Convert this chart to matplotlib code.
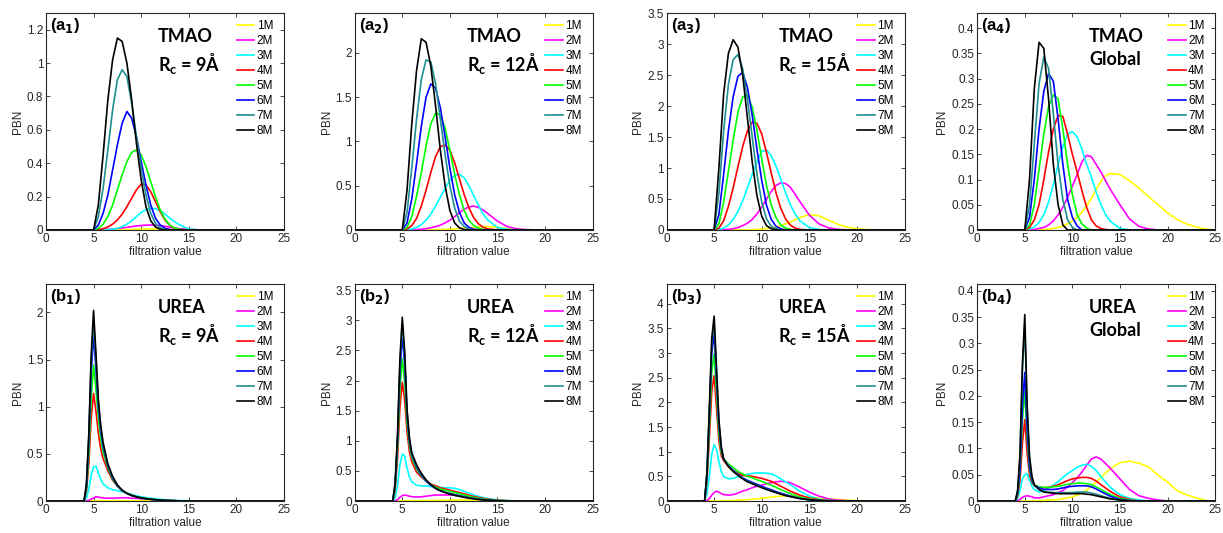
import matplotlib
matplotlib.use('Agg')
from matplotlib import pyplot as plt
from matplotlib.ticker import FuncFormatter

plt.rcParams['font.family'] = ['Liberation Sans', 'DejaVu Sans']

concentrations = ['1M', '2M', '3M', '4M', '5M', '6M', '7M', '8M']
line_colors = ['#ffff00', '#ff00ff', '#00ffff', '#ff0000', '#00ff00', '#0000ff', '#1f8f8f', '#000000']

# filtration values
x_tmao = [0, 5, 5.5, 6, 6.5, 7, 7.5, 8, 8.5, 9, 9.5, 10, 10.5, 11, 11.5, 12, 12.5, 13, 13.5, 14,
          15, 16, 17, 18, 19, 20, 21, 22, 23, 24, 25]
x_urea = [0, 4, 4.25, 4.5, 4.75, 5, 5.25, 5.5, 5.75, 6, 6.5, 7, 7.5, 8, 8.5, 9, 9.5, 10, 10.5, 11,
          11.5, 12, 12.5, 13, 14, 15, 16, 17, 18, 19, 20, 21, 22, 23, 24, 25]

# TMAO, Rc = 9A
a1_pbn = [
    [0, 0, 0, 0, 0, 0, 0.001, 0.002, 0.003, 0.004, 0.005, 0.006, 0.006, 0.006, 0.006, 0.005, 0.004, 0.003, 0.002, 0.001, 0, 0, 0, 0, 0, 0, 0, 0, 0, 0, 0],
    [0, 0, 0, 0.002, 0.004, 0.006, 0.009, 0.012, 0.016, 0.02, 0.024, 0.027, 0.029, 0.03, 0.029, 0.026, 0.022, 0.017, 0.012, 0.008, 0.003, 0.001, 0, 0, 0, 0, 0, 0, 0, 0, 0],
    [0, 0, 0, 0, 0.002, 0.005, 0.01, 0.02, 0.035, 0.055, 0.08, 0.105, 0.122, 0.13, 0.128, 0.115, 0.095, 0.072, 0.05, 0.032, 0.006, 0.001, 0, 0, 0, 0, 0, 0, 0, 0, 0],
    [0, 0, 0.002, 0.008, 0.018, 0.035, 0.06, 0.095, 0.14, 0.19, 0.24, 0.275, 0.27, 0.23, 0.17, 0.11, 0.06, 0.028, 0.01, 0.003, 0, 0, 0, 0, 0, 0, 0, 0, 0, 0, 0],
    [0, 0, 0.01, 0.035, 0.08, 0.15, 0.24, 0.33, 0.41, 0.465, 0.48, 0.45, 0.38, 0.29, 0.2, 0.12, 0.065, 0.03, 0.012, 0.004, 0, 0, 0, 0, 0, 0, 0, 0, 0, 0, 0],
    [0, 0, 0.03, 0.1, 0.21, 0.36, 0.51, 0.64, 0.71, 0.67, 0.56, 0.41, 0.27, 0.15, 0.07, 0.03, 0.01, 0.003, 0, 0, 0, 0, 0, 0, 0, 0, 0, 0, 0, 0, 0],
    [0, 0, 0.08, 0.25, 0.48, 0.72, 0.9, 0.96, 0.92, 0.76, 0.56, 0.37, 0.21, 0.1, 0.04, 0.012, 0.003, 0, 0, 0, 0, 0, 0, 0, 0, 0, 0, 0, 0, 0, 0],
    [0, 0, 0.15, 0.45, 0.78, 1.02, 1.15, 1.13, 1.0, 0.78, 0.52, 0.3, 0.14, 0.055, 0.018, 0.004, 0, 0, 0, 0, 0, 0, 0, 0, 0, 0, 0, 0, 0, 0, 0],
]

# TMAO, Rc = 12A
a2_pbn = [
    [0, 0, 0, 0, 0, 0, 0, 0.002, 0.003, 0.005, 0.007, 0.01, 0.013, 0.017, 0.021, 0.025, 0.03, 0.035, 0.038, 0.04, 0.032, 0.016, 0.005, 0.001, 0, 0, 0, 0, 0, 0, 0],
    [0, 0, 0, 0.002, 0.004, 0.008, 0.014, 0.025, 0.038, 0.055, 0.08, 0.11, 0.15, 0.195, 0.235, 0.26, 0.27, 0.255, 0.225, 0.185, 0.1, 0.04, 0.013, 0.004, 0.001, 0, 0, 0, 0, 0, 0],
    [0, 0, 0.003, 0.01, 0.03, 0.06, 0.11, 0.18, 0.27, 0.37, 0.47, 0.56, 0.62, 0.63, 0.59, 0.5, 0.39, 0.28, 0.18, 0.11, 0.03, 0.007, 0.001, 0, 0, 0, 0, 0, 0, 0, 0],
    [0, 0, 0.01, 0.05, 0.13, 0.27, 0.45, 0.65, 0.83, 0.94, 0.96, 0.9, 0.76, 0.58, 0.4, 0.25, 0.14, 0.07, 0.03, 0.012, 0.001, 0, 0, 0, 0, 0, 0, 0, 0, 0, 0],
    [0, 0, 0.03, 0.15, 0.38, 0.65, 0.95, 1.2, 1.32, 1.3, 1.15, 0.9, 0.63, 0.4, 0.22, 0.11, 0.05, 0.02, 0.006, 0.002, 0, 0, 0, 0, 0, 0, 0, 0, 0, 0, 0],
    [0, 0, 0.08, 0.35, 0.75, 1.17, 1.5, 1.65, 1.6, 1.38, 1.05, 0.7, 0.4, 0.2, 0.08, 0.03, 0.01, 0.002, 0, 0, 0, 0, 0, 0, 0, 0, 0, 0, 0, 0, 0],
    [0, 0, 0.2, 0.7, 1.25, 1.7, 1.92, 1.9, 1.65, 1.25, 0.85, 0.5, 0.25, 0.1, 0.04, 0.01, 0.002, 0, 0, 0, 0, 0, 0, 0, 0, 0, 0, 0, 0, 0, 0],
    [0, 0, 0.45, 1.2, 1.8, 2.16, 2.12, 1.85, 1.4, 0.9, 0.5, 0.22, 0.08, 0.025, 0.005, 0.001, 0, 0, 0, 0, 0, 0, 0, 0, 0, 0, 0, 0, 0, 0, 0],
]

# TMAO, Rc = 15A
a3_pbn = [
    [0, 0, 0, 0, 0, 0, 0, 0.001, 0.003, 0.005, 0.009, 0.015, 0.024, 0.035, 0.05, 0.07, 0.1, 0.13, 0.165, 0.2, 0.25, 0.23, 0.16, 0.09, 0.045, 0.02, 0.008, 0.003, 0.001, 0, 0],
    [0, 0, 0, 0.005, 0.01, 0.02, 0.04, 0.07, 0.11, 0.17, 0.26, 0.37, 0.5, 0.62, 0.72, 0.76, 0.75, 0.69, 0.58, 0.46, 0.24, 0.1, 0.035, 0.01, 0.002, 0, 0, 0, 0, 0, 0],
    [0, 0, 0.005, 0.03, 0.08, 0.17, 0.3, 0.47, 0.68, 0.9, 1.1, 1.27, 1.29, 1.2, 1.03, 0.82, 0.6, 0.41, 0.26, 0.15, 0.04, 0.01, 0, 0, 0, 0, 0, 0, 0, 0, 0],
    [0, 0, 0.03, 0.15, 0.38, 0.68, 1.02, 1.35, 1.6, 1.74, 1.72, 1.55, 1.25, 0.92, 0.6, 0.35, 0.18, 0.08, 0.03, 0.01, 0, 0, 0, 0, 0, 0, 0, 0, 0, 0, 0],
    [0, 0, 0.1, 0.45, 0.95, 1.45, 1.9, 2.15, 2.18, 1.98, 1.6, 1.15, 0.72, 0.4, 0.2, 0.08, 0.03, 0.01, 0, 0, 0, 0, 0, 0, 0, 0, 0, 0, 0, 0, 0],
    [0, 0, 0.25, 0.9, 1.6, 2.15, 2.48, 2.54, 2.3, 1.85, 1.3, 0.8, 0.4, 0.17, 0.06, 0.02, 0, 0, 0, 0, 0, 0, 0, 0, 0, 0, 0, 0, 0, 0, 0],
    [0, 0, 0.6, 1.6, 2.35, 2.75, 2.83, 2.6, 2.1, 1.5, 0.9, 0.45, 0.18, 0.06, 0.02, 0, 0, 0, 0, 0, 0, 0, 0, 0, 0, 0, 0, 0, 0, 0, 0],
    [0, 0, 1.0, 2.2, 2.85, 3.07, 2.95, 2.5, 1.8, 1.1, 0.55, 0.22, 0.07, 0.02, 0.005, 0, 0, 0, 0, 0, 0, 0, 0, 0, 0, 0, 0, 0, 0, 0, 0],
]

# TMAO, global
a4_pbn = [
    [0, 0, 0, 0, 0, 0.001, 0.002, 0.003, 0.005, 0.008, 0.012, 0.018, 0.025, 0.035, 0.048, 0.063, 0.08, 0.097, 0.108, 0.112, 0.11, 0.098, 0.083, 0.066, 0.05, 0.034, 0.021, 0.012, 0.006, 0.002, 0],
    [0, 0, 0, 0.001, 0.003, 0.005, 0.01, 0.018, 0.03, 0.045, 0.065, 0.087, 0.11, 0.135, 0.148, 0.145, 0.13, 0.115, 0.097, 0.08, 0.05, 0.022, 0.007, 0.002, 0, 0, 0, 0, 0, 0, 0],
    [0, 0, 0.002, 0.006, 0.015, 0.03, 0.055, 0.09, 0.13, 0.165, 0.19, 0.195, 0.185, 0.16, 0.13, 0.105, 0.075, 0.05, 0.03, 0.017, 0.003, 0, 0, 0, 0, 0, 0, 0, 0, 0, 0],
    [0, 0, 0.005, 0.02, 0.05, 0.1, 0.155, 0.2, 0.227, 0.225, 0.19, 0.15, 0.115, 0.078, 0.045, 0.02, 0.008, 0.003, 0.001, 0, 0, 0, 0, 0, 0, 0, 0, 0, 0, 0, 0],
    [0, 0, 0.01, 0.05, 0.12, 0.19, 0.245, 0.268, 0.26, 0.2, 0.13, 0.07, 0.03, 0.012, 0.004, 0, 0, 0, 0, 0, 0, 0, 0, 0, 0, 0, 0, 0, 0, 0, 0],
    [0, 0, 0.025, 0.1, 0.2, 0.275, 0.31, 0.295, 0.22, 0.13, 0.06, 0.025, 0.008, 0, 0, 0, 0, 0, 0, 0, 0, 0, 0, 0, 0, 0, 0, 0, 0, 0, 0],
    [0, 0, 0.05, 0.17, 0.29, 0.343, 0.32, 0.23, 0.13, 0.06, 0.02, 0.005, 0, 0, 0, 0, 0, 0, 0, 0, 0, 0, 0, 0, 0, 0, 0, 0, 0, 0, 0],
    [0, 0, 0.1, 0.28, 0.372, 0.36, 0.26, 0.13, 0.05, 0.01, 0, 0, 0, 0, 0, 0, 0, 0, 0, 0, 0, 0, 0, 0, 0, 0, 0, 0, 0, 0, 0],
]

# UREA, Rc = 9A
b1_pbn = [
    [0, 0, 0, 0.001, 0.002, 0.003, 0.003, 0.003, 0.003, 0.003, 0.003, 0.003, 0.003, 0.003, 0.003, 0.003, 0.003, 0.003, 0.002, 0.002, 0.002, 0.001, 0.001, 0.001, 0, 0, 0, 0, 0, 0, 0, 0, 0, 0, 0, 0],
    [0, 0, 0.002, 0.008, 0.02, 0.032, 0.045, 0.042, 0.036, 0.032, 0.03, 0.03, 0.032, 0.035, 0.034, 0.03, 0.028, 0.025, 0.021, 0.018, 0.014, 0.01, 0.007, 0.005, 0.002, 0, 0, 0, 0, 0, 0, 0, 0, 0, 0, 0],
    [0, 0, 0.03, 0.12, 0.28, 0.36, 0.37, 0.3, 0.23, 0.18, 0.14, 0.12, 0.11, 0.1, 0.085, 0.07, 0.055, 0.045, 0.037, 0.03, 0.024, 0.018, 0.014, 0.01, 0.005, 0.002, 0, 0, 0, 0, 0, 0, 0, 0, 0, 0],
    [0, 0, 0.1, 0.4, 0.88, 1.14, 0.95, 0.72, 0.55, 0.45, 0.32, 0.22, 0.16, 0.11, 0.08, 0.06, 0.045, 0.035, 0.027, 0.02, 0.015, 0.01, 0.007, 0.005, 0.002, 0, 0, 0, 0, 0, 0, 0, 0, 0, 0, 0],
    [0, 0, 0.12, 0.5, 1.1, 1.44, 1.18, 0.88, 0.66, 0.52, 0.35, 0.23, 0.16, 0.11, 0.08, 0.06, 0.045, 0.034, 0.026, 0.019, 0.014, 0.01, 0.007, 0.005, 0.002, 0, 0, 0, 0, 0, 0, 0, 0, 0, 0, 0],
    [0, 0, 0.15, 0.62, 1.36, 1.76, 1.4, 0.98, 0.74, 0.57, 0.37, 0.24, 0.16, 0.11, 0.08, 0.058, 0.043, 0.032, 0.024, 0.018, 0.013, 0.009, 0.006, 0.004, 0.001, 0, 0, 0, 0, 0, 0, 0, 0, 0, 0, 0],
    [0, 0, 0.17, 0.68, 1.47, 1.9, 1.5, 1.04, 0.77, 0.6, 0.38, 0.25, 0.165, 0.112, 0.08, 0.058, 0.043, 0.032, 0.024, 0.018, 0.013, 0.009, 0.006, 0.004, 0.001, 0, 0, 0, 0, 0, 0, 0, 0, 0, 0, 0],
    [0, 0, 0.18, 0.72, 1.55, 2.02, 1.56, 1.08, 0.8, 0.62, 0.39, 0.26, 0.17, 0.115, 0.082, 0.06, 0.044, 0.033, 0.025, 0.018, 0.013, 0.009, 0.006, 0.004, 0.001, 0, 0, 0, 0, 0, 0, 0, 0, 0, 0, 0],
]

# UREA, Rc = 12A
b2_pbn = [
    [0, 0, 0, 0.001, 0.002, 0.003, 0.004, 0.004, 0.005, 0.005, 0.006, 0.008, 0.009, 0.01, 0.011, 0.012, 0.013, 0.014, 0.015, 0.015, 0.015, 0.014, 0.013, 0.012, 0.009, 0.006, 0.004, 0.002, 0.001, 0, 0, 0, 0, 0, 0, 0],
    [0, 0, 0.005, 0.02, 0.06, 0.09, 0.1, 0.09, 0.08, 0.072, 0.065, 0.07, 0.08, 0.09, 0.1, 0.1, 0.1, 0.1, 0.095, 0.085, 0.075, 0.063, 0.05, 0.04, 0.022, 0.01, 0.004, 0.001, 0, 0, 0, 0, 0, 0, 0, 0],
    [0, 0, 0.05, 0.25, 0.6, 0.78, 0.75, 0.55, 0.4, 0.32, 0.26, 0.25, 0.25, 0.24, 0.23, 0.225, 0.22, 0.22, 0.21, 0.19, 0.16, 0.13, 0.1, 0.075, 0.04, 0.018, 0.007, 0.002, 0, 0, 0, 0, 0, 0, 0, 0],
    [0, 0, 0.18, 0.7, 1.55, 1.97, 1.68, 1.15, 0.82, 0.65, 0.48, 0.4, 0.33, 0.28, 0.25, 0.22, 0.2, 0.18, 0.16, 0.14, 0.12, 0.095, 0.075, 0.058, 0.03, 0.013, 0.005, 0.001, 0, 0, 0, 0, 0, 0, 0, 0],
    [0, 0, 0.22, 0.85, 1.85, 2.36, 1.98, 1.3, 0.92, 0.72, 0.53, 0.42, 0.33, 0.27, 0.23, 0.2, 0.18, 0.16, 0.14, 0.12, 0.1, 0.08, 0.06, 0.045, 0.022, 0.009, 0.003, 0, 0, 0, 0, 0, 0, 0, 0, 0],
    [0, 0, 0.26, 0.98, 2.12, 2.75, 2.28, 1.42, 0.98, 0.76, 0.56, 0.43, 0.33, 0.26, 0.21, 0.17, 0.145, 0.125, 0.105, 0.088, 0.07, 0.055, 0.042, 0.03, 0.014, 0.005, 0.001, 0, 0, 0, 0, 0, 0, 0, 0, 0],
    [0, 0, 0.28, 1.05, 2.25, 2.93, 2.41, 1.48, 1.02, 0.78, 0.58, 0.45, 0.34, 0.27, 0.215, 0.175, 0.145, 0.12, 0.1, 0.083, 0.066, 0.051, 0.038, 0.028, 0.013, 0.005, 0.001, 0, 0, 0, 0, 0, 0, 0, 0, 0],
    [0, 0, 0.3, 1.1, 2.35, 3.05, 2.5, 1.52, 1.05, 0.8, 0.6, 0.46, 0.35, 0.27, 0.21, 0.17, 0.14, 0.115, 0.095, 0.078, 0.062, 0.048, 0.036, 0.026, 0.012, 0.004, 0.001, 0, 0, 0, 0, 0, 0, 0, 0, 0],
]

# UREA, Rc = 15A
b3_pbn = [
    [0, 0, 0, 0, 0.001, 0.002, 0.002, 0.003, 0.004, 0.005, 0.008, 0.012, 0.016, 0.02, 0.027, 0.035, 0.045, 0.055, 0.067, 0.08, 0.09, 0.1, 0.102, 0.1, 0.09, 0.075, 0.06, 0.045, 0.03, 0.018, 0.008, 0.003, 0, 0, 0, 0],
    [0, 0, 0.01, 0.05, 0.12, 0.17, 0.2, 0.18, 0.15, 0.13, 0.12, 0.13, 0.16, 0.2, 0.23, 0.27, 0.3, 0.32, 0.35, 0.37, 0.39, 0.4, 0.39, 0.37, 0.28, 0.18, 0.1, 0.045, 0.017, 0.006, 0.002, 0, 0, 0, 0, 0],
    [0, 0, 0.15, 0.5, 0.95, 1.14, 1.05, 0.8, 0.6, 0.5, 0.45, 0.46, 0.49, 0.52, 0.54, 0.56, 0.57, 0.57, 0.565, 0.55, 0.51, 0.45, 0.39, 0.33, 0.2, 0.1, 0.04, 0.015, 0.004, 0, 0, 0, 0, 0, 0, 0],
    [0, 0, 0.4, 1.28, 2.23, 2.54, 1.9, 1.22, 0.92, 0.82, 0.7, 0.62, 0.56, 0.52, 0.51, 0.5, 0.48, 0.46, 0.43, 0.4, 0.35, 0.3, 0.25, 0.2, 0.12, 0.06, 0.025, 0.01, 0.002, 0, 0, 0, 0, 0, 0, 0],
    [0, 0, 0.47, 1.5, 2.62, 2.98, 2.2, 1.38, 0.98, 0.86, 0.75, 0.68, 0.6, 0.55, 0.5, 0.47, 0.43, 0.4, 0.36, 0.32, 0.28, 0.23, 0.19, 0.15, 0.08, 0.04, 0.015, 0.005, 0.001, 0, 0, 0, 0, 0, 0, 0],
    [0, 0, 0.54, 1.72, 3.0, 3.4, 2.48, 1.52, 1.05, 0.85, 0.72, 0.62, 0.54, 0.47, 0.42, 0.38, 0.34, 0.3, 0.26, 0.23, 0.19, 0.16, 0.13, 0.1, 0.055, 0.025, 0.01, 0.003, 0, 0, 0, 0, 0, 0, 0, 0],
    [0, 0, 0.58, 1.83, 3.2, 3.62, 2.62, 1.6, 1.08, 0.85, 0.71, 0.61, 0.53, 0.46, 0.4, 0.36, 0.32, 0.28, 0.24, 0.21, 0.175, 0.145, 0.115, 0.09, 0.05, 0.023, 0.009, 0.003, 0, 0, 0, 0, 0, 0, 0, 0],
    [0, 0, 0.6, 1.9, 3.3, 3.75, 2.7, 1.65, 1.1, 0.85, 0.7, 0.6, 0.52, 0.45, 0.39, 0.35, 0.31, 0.27, 0.235, 0.2, 0.17, 0.14, 0.11, 0.09, 0.05, 0.025, 0.01, 0.003, 0, 0, 0, 0, 0, 0, 0, 0],
]

# UREA, global
b4_pbn = [
    [0, 0, 0, 0, 0, 0, 0, 0, 0, 0, 0.001, 0.001, 0.002, 0.002, 0.003, 0.004, 0.006, 0.008, 0.011, 0.015, 0.021, 0.028, 0.036, 0.045, 0.062, 0.073, 0.076, 0.072, 0.065, 0.049, 0.036, 0.02, 0.012, 0.006, 0.001, 0],
    [0, 0, 0.001, 0.003, 0.007, 0.009, 0.01, 0.009, 0.008, 0.006, 0.006, 0.008, 0.01, 0.012, 0.016, 0.02, 0.027, 0.035, 0.044, 0.055, 0.068, 0.08, 0.084, 0.08, 0.062, 0.042, 0.022, 0.01, 0.005, 0.002, 0, 0, 0, 0, 0, 0],
    [0, 0, 0.005, 0.02, 0.042, 0.05, 0.052, 0.04, 0.028, 0.022, 0.017, 0.02, 0.025, 0.03, 0.037, 0.045, 0.052, 0.058, 0.064, 0.068, 0.07, 0.066, 0.058, 0.046, 0.026, 0.012, 0.005, 0.002, 0, 0, 0, 0, 0, 0, 0, 0],
    [0, 0, 0.01, 0.04, 0.11, 0.155, 0.09, 0.05, 0.035, 0.03, 0.026, 0.025, 0.026, 0.028, 0.031, 0.035, 0.039, 0.042, 0.044, 0.045, 0.045, 0.043, 0.038, 0.031, 0.018, 0.008, 0.003, 0, 0, 0, 0, 0, 0, 0, 0, 0],
    [0, 0, 0.013, 0.055, 0.155, 0.21, 0.12, 0.06, 0.038, 0.03, 0.027, 0.026, 0.026, 0.027, 0.028, 0.03, 0.032, 0.033, 0.034, 0.034, 0.033, 0.031, 0.027, 0.022, 0.012, 0.005, 0.002, 0, 0, 0, 0, 0, 0, 0, 0, 0],
    [0, 0, 0.015, 0.06, 0.18, 0.245, 0.135, 0.065, 0.04, 0.03, 0.025, 0.022, 0.022, 0.022, 0.023, 0.025, 0.027, 0.028, 0.029, 0.029, 0.029, 0.027, 0.023, 0.018, 0.009, 0.003, 0.001, 0, 0, 0, 0, 0, 0, 0, 0, 0],
    [0, 0, 0.019, 0.085, 0.245, 0.335, 0.175, 0.08, 0.045, 0.03, 0.022, 0.018, 0.017, 0.016, 0.016, 0.016, 0.016, 0.016, 0.017, 0.017, 0.017, 0.015, 0.013, 0.01, 0.005, 0.002, 0, 0, 0, 0, 0, 0, 0, 0, 0, 0],
    [0, 0, 0.02, 0.09, 0.26, 0.355, 0.18, 0.085, 0.047, 0.031, 0.022, 0.017, 0.016, 0.015, 0.014, 0.014, 0.014, 0.014, 0.014, 0.014, 0.013, 0.012, 0.01, 0.008, 0.004, 0.002, 0, 0, 0, 0, 0, 0, 0, 0, 0, 0],
]

panel_tags = [('a', '1'), ('a', '2'), ('a', '3'), ('a', '4'), ('b', '1'), ('b', '2'), ('b', '3'), ('b', '4')]
panel_titles = [('TMAO', 9), ('TMAO', 12), ('TMAO', 15), ('TMAO', None),
                ('UREA', 9), ('UREA', 12), ('UREA', 15), ('UREA', None)]
panel_data = [a1_pbn, a2_pbn, a3_pbn, a4_pbn, b1_pbn, b2_pbn, b3_pbn, b4_pbn]
panel_x = [x_tmao] * 4 + [x_urea] * 4
y_max = [1.3, 2.45, 3.5, 0.43, 2.3, 3.6, 4.4, 0.413]
y_step = [0.2, 0.5, 0.5, 0.05, 0.5, 0.5, 0.5, 0.05]

fig = plt.figure(figsize=(12.23, 5.33), dpi=100)
lefts = [0.0376, 0.290, 0.545, 0.799]
bottoms = [0.5685, 0.060]
fmt = FuncFormatter(lambda v, p: '%g' % round(v, 4))

for i in range(8):
    row, col = divmod(i, 4)
    ax = fig.add_axes([lefts[col], bottoms[row], 0.1946, 0.407])
    for j in range(8):
        ax.plot(panel_x[i], panel_data[i][j], color=line_colors[j], lw=1.2, label=concentrations[j])
    ax.set_xlim(0, 25)
    ax.set_ylim(0, y_max[i])
    ax.set_xticks([0, 5, 10, 15, 20, 25])
    n = int(y_max[i] / y_step[i] + 1e-6)
    ax.set_yticks([k * y_step[i] for k in range(n + 1)])
    ax.yaxis.set_major_formatter(fmt)
    ax.tick_params(direction='in', top=True, right=True, length=3, width=0.6,
                   labelsize=8.5, colors='#262626', pad=2)
    for s in ax.spines.values():
        s.set_linewidth(0.8)
        s.set_color('#262626')
    ax.set_xlabel('filtration value', fontsize=8.5, color='#262626', labelpad=1)
    ax.set_ylabel('PBN', fontsize=8.5, color='#262626', labelpad=2)

    letter, sub = panel_tags[i]
    ax.text(0.018, 0.985, '(' + letter + r'$_\mathbf{' + sub + '}$)',
            transform=ax.transAxes, ha='left', va='top', fontsize=12, fontweight='bold')
    solute, rc = panel_titles[i]
    if rc is None:
        second = 'Global'
    else:
        second = r'R$_\mathregular{c}$ = %d' % rc + 'Å'
    ax.text(0.47, 0.93, solute, transform=ax.transAxes, ha='left', va='top',
            fontsize=13, fontweight='bold', family=['Lato', 'DejaVu Sans'])
    ax.text(0.47, 0.825, second, transform=ax.transAxes, ha='left', va='top',
            fontsize=13, fontweight='bold', family=['Lato', 'DejaVu Sans'])

    ax.legend(loc='upper right', frameon=False, fontsize=8.5, handlelength=1.5,
              handletextpad=0.2, labelspacing=0.25, borderaxespad=0.5,
              bbox_to_anchor=(1.0, 1.015))

fig.savefig('out.png', dpi=100)
